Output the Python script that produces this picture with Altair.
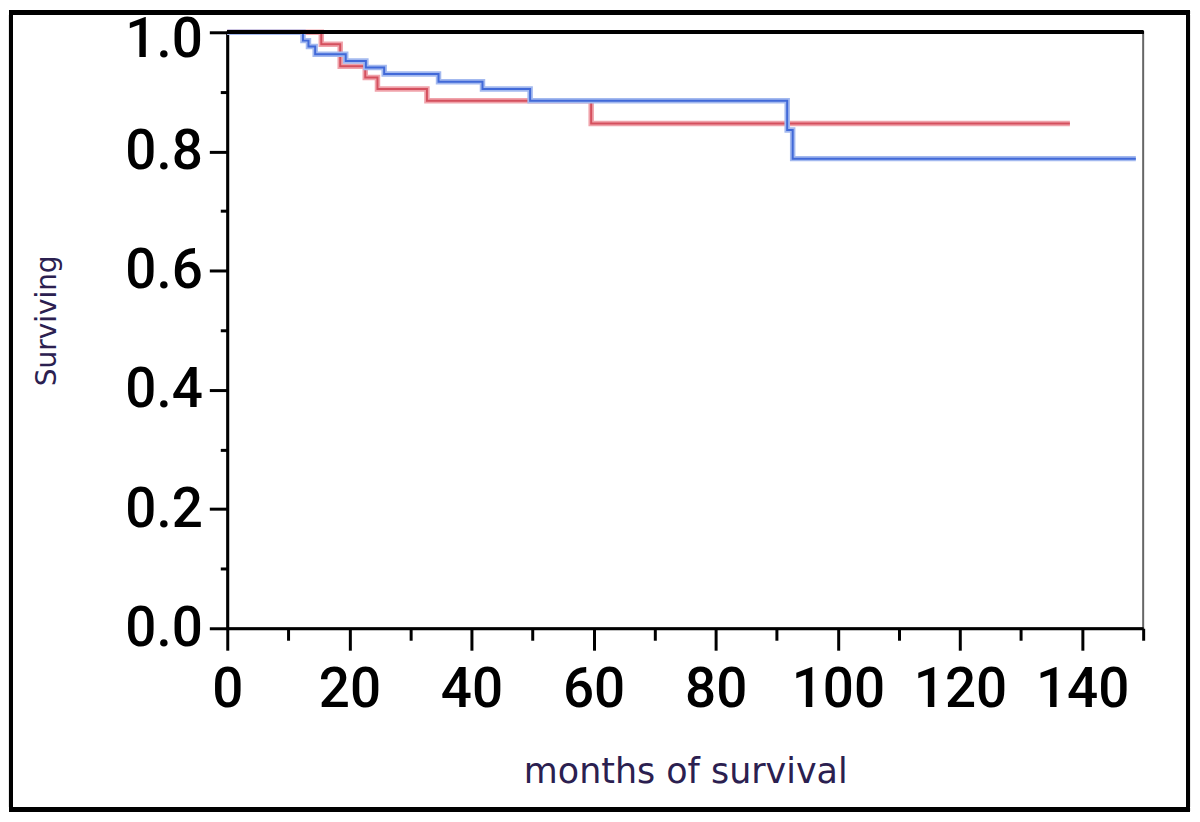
import altair as alt
import pandas as pd

# Kaplan-Meier step curves
blue_time = [0, 12.4, 13.3, 14.4, 19.4, 22.7, 25.7, 34.6, 41.8, 49.6, 91.7, 92.6, 148.8]
blue_surv = [1.0, 0.986, 0.976, 0.963, 0.952, 0.941, 0.930, 0.917, 0.905, 0.885, 0.836, 0.788, 0.788]

red_time = [0, 15.4, 18.5, 22.6, 24.6, 32.7, 59.6, 138.0]
red_surv = [1.0, 0.980, 0.943, 0.924, 0.905, 0.885, 0.847, 0.847]

groups = ["red", "blue"]
core_colors = ["#d4505e", "#4169d8"]
halo_colors = ["#f0a3ab", "#a3b9ef"]

x_ticks = list(range(0, 151, 10))
y_ticks = [round(i * 0.1, 1) for i in range(11)]

rows = []
for t, s in zip(red_time, red_surv):
    rows.append({"group": "red", "time": t, "surv": s})
for t, s in zip(blue_time, blue_surv):
    rows.append({"group": "blue", "time": t, "surv": s})
df = pd.DataFrame(rows)

W, H = 919, 598
FONT = "Roboto"
TFONT = "DejaVu Sans"
TITLE_COLOR = "#2b2050"

x_axis = alt.Axis(
    values=x_ticks,
    labelExpr="datum.value % 20 === 0 ? datum.label : ''",
    tickSize={"condition": {"test": "datum.value % 20 === 0", "value": 22}, "value": 12},
    tickWidth=3,
    tickColor="#000",
    domainColor="#000",
    domainWidth=3,
    grid=False,
    labelFont=FONT,
    labelFontSize=55,
    labelFontWeight=500,
    labelColor="#000",
    labelPadding=14,
    labelOverlap=False,
    labelFlush=False,
    title="months of survival",
    titleFont=TFONT,
    titleFontSize=35,
    titleFontWeight="normal",
    titleColor=TITLE_COLOR,
    titleY=144,
    titleBaseline="middle",
)

y_axis = alt.Axis(
    values=y_ticks,
    labelExpr="round(datum.value * 10) % 2 === 0 ? format(datum.value, '.1f') : ''",
    tickSize={"condition": {"test": "round(datum.value * 10) % 2 === 0", "value": 18}, "value": 7},
    tickWidth=3,
    tickColor="#000",
    domainColor="#000",
    domainWidth=3,
    grid=False,
    labelFont=FONT,
    labelFontSize=55,
    labelFontWeight=500,
    labelColor="#000",
    labelPadding=7,
    labelOffset={"condition": {"test": "datum.value === 1", "value": 7}, "value": 0},
    labelOverlap=False,
    labelFlush=False,
    title="Surviving",
    titleFont=TFONT,
    titleFontSize=28,
    titleFontWeight="normal",
    titleColor=TITLE_COLOR,
    titleX=-180,
    titleY=289,
    titleBaseline="middle",
)

x_enc = alt.X("time:Q", scale=alt.Scale(domain=[0, 150], nice=False, zero=False), axis=x_axis)
y_enc = alt.Y("surv:Q", scale=alt.Scale(domain=[0, 1], nice=False), axis=y_axis)

halo = alt.Chart(df).mark_line(interpolate="step-after", strokeWidth=5.5).encode(
    x=x_enc,
    y=y_enc,
    color=alt.Color("group:N", scale=alt.Scale(domain=groups, range=halo_colors), legend=None),
    detail="group:N",
)

core = alt.Chart(df).mark_line(interpolate="step-after", strokeWidth=2).encode(
    x=alt.X("time:Q"),
    y=alt.Y("surv:Q"),
    color=alt.Color("group:N", scale=alt.Scale(domain=groups, range=core_colors), legend=None),
    detail="group:N",
)

top_rule = alt.Chart(df).mark_rule(color="#000", strokeWidth=3).encode(
    x=alt.value(0), x2=alt.value(W), y=alt.value(0)
)

outer = alt.Chart(df).mark_rect(fill=None, stroke="#000", strokeWidth=4).encode(
    x=alt.value(-217), x2=alt.value(964), y=alt.value(-20), y2=alt.value(780)
)

red_halo = halo.transform_filter("datum.group === 'red'")
blue_halo = halo.transform_filter("datum.group === 'blue'")
red_core = core.transform_filter("datum.group === 'red'")
blue_core = core.transform_filter("datum.group === 'blue'")

chart = (
    alt.layer(red_halo, red_core, blue_halo, blue_core, top_rule, outer)
    .resolve_scale(color="independent")
    .properties(
        width=W,
        height=H,
        autosize=alt.AutoSizeParams(type="none"),
        padding={"left": 220, "top": 23, "right": 49, "bottom": 185},
        background="#ffffff",
    )
    .configure_view(stroke="#666", strokeWidth=2)
)

chart.save("out.html", embed_options={"renderer": "svg", "actions": False})
